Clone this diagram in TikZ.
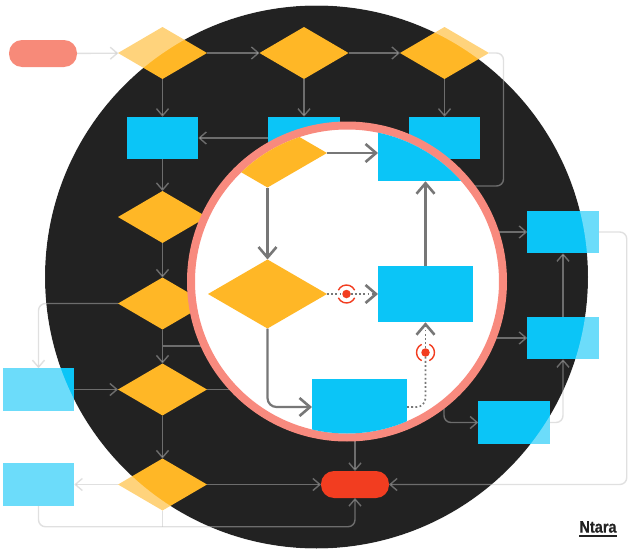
\documentclass[tikz,border=0pt]{standalone}
\usepackage{fontspec}
\setmainfont{Liberation Sans}
\newfontfamily\logofont[FakeStretch=.88,FakeBold=.6]{Liberation Sans}
\usetikzlibrary{shapes.geometric,arrows.meta}
\definecolor{night}{HTML}{222222}
\definecolor{amber}{HTML}{FFB726}
\definecolor{sky}{HTML}{0BC5F7}
\definecolor{coral}{HTML}{F88A7E}
\definecolor{signal}{HTML}{F23D20}
\definecolor{wire}{HTML}{BFBFBF}
\definecolor{wirein}{HTML}{777777}
\begin{document}
\begin{tikzpicture}[x=1pt,y=-1pt,
  dia/.style = {diamond,fill=amber,aspect=1.72,minimum width=89pt,minimum height=52pt,inner sep=0pt,outer sep=0pt},
  box/.style = {rectangle,fill=sky,minimum width=71.5pt,minimum height=42.5pt,inner sep=0pt,outer sep=0pt},
  pill/.style = {rectangle,rounded corners=13pt,minimum width=68pt,minimum height=27pt,inner sep=0pt,outer sep=0pt},
  wireline/.style = {draw=wire,opacity=.48,line width=1.4pt,rounded corners=7pt,-{Straight Barb[length=7pt,width=12pt]}},
  plainline/.style = {wireline,-},
  bigdia/.style = {dia,minimum width=119pt,minimum height=69pt},
  bigbox/.style = {box,minimum width=95pt,minimum height=56.5pt},
  inline/.style = {draw=wirein,line width=2.2pt,rounded corners=9pt,-{Straight Barb[length=10.5pt,width=18pt,line width=2.6pt]}},
  dotline/.style = {draw=wirein,line width=1.7pt,dash pattern=on 1.8pt off 2.4pt,rounded corners=9pt},
  dotarrow/.style = {dotline,-{Straight Barb[length=10.5pt,width=18pt,line width=2.6pt]}},
  dot/.style = {circle,fill=signal,minimum size=8.5pt,inner sep=0pt,outer sep=0pt},
  halo/.style = {draw=signal,line width=1.4pt}]
\useasboundingbox (0,0) rectangle (633,554);
\fill[night] (316.5,277) circle (271.5pt);
\node[pill,fill=signal] (0) at (43,53.5) {};
\node[dia] (1) at (162.5,53) {};
\node[dia,node distance=141.5pt] (2) [right of=1] {};
\node[dia,node distance=140.5pt] (3) [right of=2] {};
\node[box,node distance=85pt] (4) [below of=1] {};
\node[box,node distance=85pt] (5) [below of=2] {};
\node[box,node distance=85pt] (6) [below of=3] {};
\node[dia,node distance=164pt] (7) [below of=1] {};
\node[dia,node distance=86.5pt] (8) [below of=7] {};
\node[dia,node distance=86pt] (9) [below of=8] {};
\node[dia,node distance=95pt] (10) [below of=9] {};
\node[box,node distance=124pt] (11) [left of=9] {};
\node[box,node distance=124pt] (12) [left of=10] {};
\node[box] (13) at (563,232) {};
\node[box,node distance=106pt] (14) [below of=13] {};
\node[box] (15) at (514,422.5) {};
\node[pill,fill=signal] (16) at (355,484.5) {};
\fill[white,opacity=.4,even odd rule] (0,0) rectangle (633,554) (316.5,277) circle (271.5pt);
\coordinate (17) at (440,186);
\coordinate (18) at (440,232);
\coordinate (19) at (440,338);
\coordinate (20) at (444,390);
\coordinate (21) at (355,420);
\coordinate (22) at (250,346);
\coordinate (23) at (250,389.5);
\draw[wireline] (0) -- (1);
\draw[wireline] (1) -- (2);
\draw[wireline] (2) -- (3);
\draw[wireline] (1) -- (4);
\draw[wireline] (2) -- (5);
\draw[wireline] (3) -- (6);
\draw[wireline] (5) -- (4);
\draw[wireline] (4) -- (7);
\draw[wireline] (7) -- (8);
\draw[wireline] (8) -- (9);
\draw[wireline] (9) -- (10);
\draw[wireline] (8.west) -| (11.north);
\draw[wireline] (11) -- (9);
\draw[wireline] (10) -- (12);
\draw[wireline] (10) -- (16);
\draw[wireline] (12.south) -- ++(0,21) -| (16.south);
\draw[plainline] (10.south) -- ++(0,16);
\draw[plainline] (3.east) -- ++(14.5,0) |- (17);
\draw[wireline] (18) -- (13);
\draw[wireline] (19) -- (14);
\draw[wireline] (14) -- (13);
\draw[wireline] (15.east) -| (14.south);
\draw[wireline] (20) |- (15.west);
\draw[wireline] (13.east) -- ++(28,0) |- (16.east);
\draw[wireline] (21) -- (16);
\draw[plainline] (22) -- (8 |- 22);
\draw[plainline] (23) -- (9);
\node[circle,draw=coral,line width=8pt,fill=white,minimum size=312pt,inner sep=0pt,outer sep=0pt] (30) at (347,281.5) {};
\begin{scope}
\clip (347,281.5) circle (152pt);
\node[bigdia] (31) at (267.5,153) {};
\node[bigdia,node distance=141pt] (32) [below of=31] {};
\node[bigbox,node distance=158pt] (33) [right of=31] {};
\node[bigbox,node distance=141pt] (34) [below of=33] {};
\node[bigbox] (35) at (359.5,407) {};
\node[dot,node distance=79pt] (36) [right of=32] {};
\node[dot,node distance=58.5pt] (37) [below of=34] {};
\draw[inline] (31) -- (33);
\draw[inline] (31) -- (32);
\draw[inline] (34) -- (33);
\draw[inline] (32.south) |- (35.west);
\draw[dotline] (32) -- (36);
\draw[dotarrow] (36) -- (34);
\draw[dotline] (35.east) -| (37.south);
\draw[dotarrow] (37) -- (34);
\draw[halo] (36.center) ++(25:9pt) arc [start angle=25,end angle=155,radius=9pt];
\draw[halo] (36.center) ++(205:9pt) arc [start angle=205,end angle=335,radius=9pt];
\draw[halo] (37.center) ++(115:9pt) arc [start angle=115,end angle=245,radius=9pt];
\draw[halo] (37.center) ++(295:9pt) arc [start angle=295,end angle=425,radius=9pt];
\end{scope}
\node[inner sep=0pt,font=\fontsize{16.5}{16.5}\logofont\bfseries,text=night] (40) at (598,527) {Ntara};
\draw[night,line width=1.6pt] (40.base west) ++(0,3.2) -- ++(38,0);
\end{tikzpicture}
\end{document}
